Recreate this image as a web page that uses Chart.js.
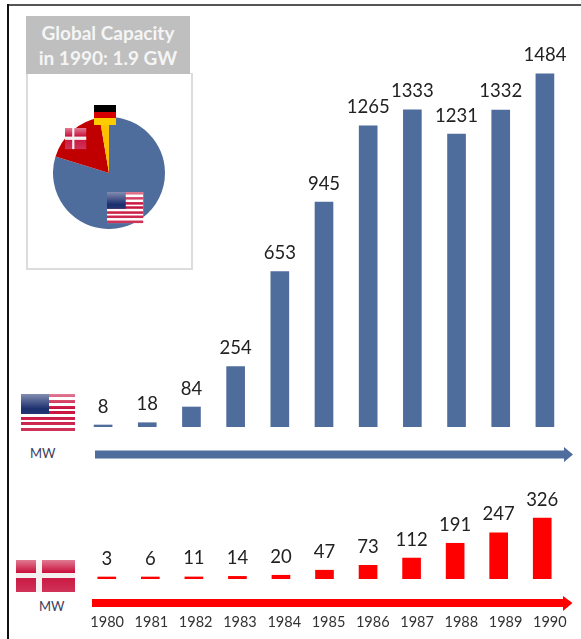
<!DOCTYPE html>
<html>
<head>
<meta charset="utf-8">
<title>Wind capacity 1980-1990</title>
<script src="https://cdn.jsdelivr.net/npm/chart.js@4"></script>
<style>
  html, body { margin: 0; padding: 0; background: #fff; }
  body { position: relative; width: 581px; height: 639px; overflow: hidden; font-family: Lato, sans-serif; }
  canvas, svg, div { position: absolute; }
  #frameTop { left: 7px; top: 4px; width: 574px; height: 2px; background: #555; }
  #frameLeft { left: 7px; top: 4px; width: 2px; height: 635px; background: #111; }
  #pieBox { left: 26px; top: 73px; width: 163px; height: 194px; border: 2px solid #dcdcdc; border-top-width: 1px; }
  #pieTitle { left: 26px; top: 16px; width: 164px; height: 58px; background: #bfbfbf; color: #f5f5f5;
    font-weight: 700; font-size: 19px; line-height: 25px; text-align: center; padding-top: 4px; box-sizing: border-box; white-space: nowrap; }
  .unit { font-size: 13px; color: #3d3d5c; }
  #overlay { left: 0; top: 0; }
</style>
</head>
<body>
<div id="frameTop"></div>
<div id="frameLeft"></div>
<div id="pieBox"></div>
<div id="pieTitle">Global Capacity<br>in 1990: 1.9 GW</div>
<canvas id="pieChart" style="left:53px;top:117px"></canvas>
<canvas id="usChart" style="left:81px;top:40px"></canvas>
<canvas id="dkChart" style="left:85px;top:490px"></canvas>
<canvas id="yearChart" style="left:85px;top:591px"></canvas>
<div class="unit" style="left:30px;top:445px">MW</div>
<div class="unit" style="left:39px;top:598px">MW</div>

<svg id="overlay" width="581" height="639">
  <defs>
    <linearGradient id="gloss" x1="0" y1="0" x2="0" y2="1">
      <stop offset="0" stop-color="#fff" stop-opacity="0.45"/>
      <stop offset="0.4" stop-color="#fff" stop-opacity="0"/>
      <stop offset="1" stop-color="#fff" stop-opacity="0.15"/>
    </linearGradient>
    <g id="flagUs">
      <rect width="54" height="37" fill="#fff"/>
      <rect y="0" width="54" height="3" fill="#c8103c"/>
      <rect y="6" width="54" height="3" fill="#c8103c"/>
      <rect y="12" width="54" height="3" fill="#c8103c"/>
      <rect y="17" width="54" height="3" fill="#c8103c"/>
      <rect y="23" width="54" height="3" fill="#c8103c"/>
      <rect y="28" width="54" height="3" fill="#c8103c"/>
      <rect y="34" width="54" height="3" fill="#c8103c"/>
      <rect width="28" height="20" fill="#1c2f6e"/>
      <rect width="54" height="37" fill="url(#gloss)"/>
    </g>
    <g id="flagDk">
      <rect width="59" height="32" fill="#c8103c"/>
      <rect x="20" width="6" height="32" fill="#f4f0f0"/>
      <rect y="13" width="59" height="5" fill="#f4f0f0"/>
      <rect width="59" height="32" fill="url(#gloss)"/>
    </g>
  </defs>

  <path d="M95 450.5H564V447L573 454.5L564 462V458.5H95Z" fill="#4f6d9c"/>
  <path d="M92 599H563V596L572.5 603L563 611V607H92Z" fill="#ff0000"/>

  <use href="#flagUs" x="21" y="394"/>
  <use href="#flagDk" x="16" y="560"/>

  <use href="#flagUs" transform="translate(107 192) scale(0.67 0.84)"/>
  <use href="#flagDk" transform="translate(65 128) scale(0.36 0.66)"/>
  <rect x="94" y="105" width="22" height="7" fill="#000"/>
  <rect x="94" y="112" width="22" height="6" fill="#d60000"/>
  <rect x="94" y="118" width="22" height="7" fill="#ffcc00"/>
</svg>

<script>
const years = ["1980", "1981", "1982", "1983", "1984", "1985", "1986", "1987", "1988", "1989", "1990"];
const usValues = [8, 18, 84, 254, 653, 945, 1265, 1333, 1231, 1332, 1484];
const dkValues = [3, 6, 11, 14, 20, 47, 73, 112, 191, 247, 326];
const pieLabels = ["USA", "Denmark", "Germany"];
const pieValues = [1484, 326, 50];

const blue = "#4f6d9c";
const red = "#ff0000";

Chart.defaults.font.family = "Lato, sans-serif";
Chart.defaults.animation = false;
Chart.defaults.responsive = false;
Chart.defaults.plugins.legend.display = false;
Chart.defaults.plugins.tooltip.enabled = false;

// value on top of each bar
const barLabels = {
  id: "barLabels",
  afterDatasetsDraw(chart) {
    const ctx = chart.ctx;
    const bars = chart.getDatasetMeta(0).data;
    ctx.save();
    ctx.font = "18.5px Lato, sans-serif";
    ctx.fillStyle = "#222";
    ctx.textAlign = "center";
    ctx.textBaseline = "alphabetic";
    bars.forEach((bar, i) => {
      ctx.fillText(chart.data.datasets[0].data[i], bar.x, bar.y - 12.5);
    });
    ctx.restore();
  }
};

function makeBars(id, width, height, values, color, yMax) {
  const canvas = document.getElementById(id);
  canvas.width = width;
  canvas.height = height;
  return new Chart(canvas, {
    type: "bar",
    data: {
      labels: years,
      datasets: [{ data: values, backgroundColor: color, barThickness: 18, minBarLength: 2 }]
    },
    options: {
      layout: { padding: 0 },
      scales: {
        x: { display: false },
        y: { display: false, min: 0, max: yMax }
      }
    },
    plugins: [barLabels]
  });
}

makeBars("usChart", 486, 387, usValues, blue, 1626);
makeBars("dkChart", 479, 89, dkValues, red, 476);

// year labels sit on a slightly wider spacing than the bars above them
// canvas is 40 tall because the layout caps an axis at half the canvas height
const yearCanvas = document.getElementById("yearChart");
yearCanvas.width = 487;
yearCanvas.height = 40;
new Chart(yearCanvas, {
  type: "bar",
  data: { labels: years, datasets: [] },
  options: {
    layout: { padding: 0 },
    scales: {
      x: {
        grid: { display: false, drawTicks: false },
        border: { display: false },
        ticks: { color: "#333", font: { size: 14.5 }, padding: 0, autoSkip: false, maxRotation: 0 }
      },
      y: { display: false }
    }
  }
});

const pieCanvas = document.getElementById("pieChart");
pieCanvas.width = 112;
pieCanvas.height = 112;
new Chart(pieCanvas, {
  type: "pie",
  data: {
    labels: pieLabels,
    datasets: [{ data: pieValues, backgroundColor: [blue, "#c00000", "#ffc000"], borderWidth: 0 }]
  },
  options: { layout: { padding: 0 } }
});
</script>
</body>
</html>
